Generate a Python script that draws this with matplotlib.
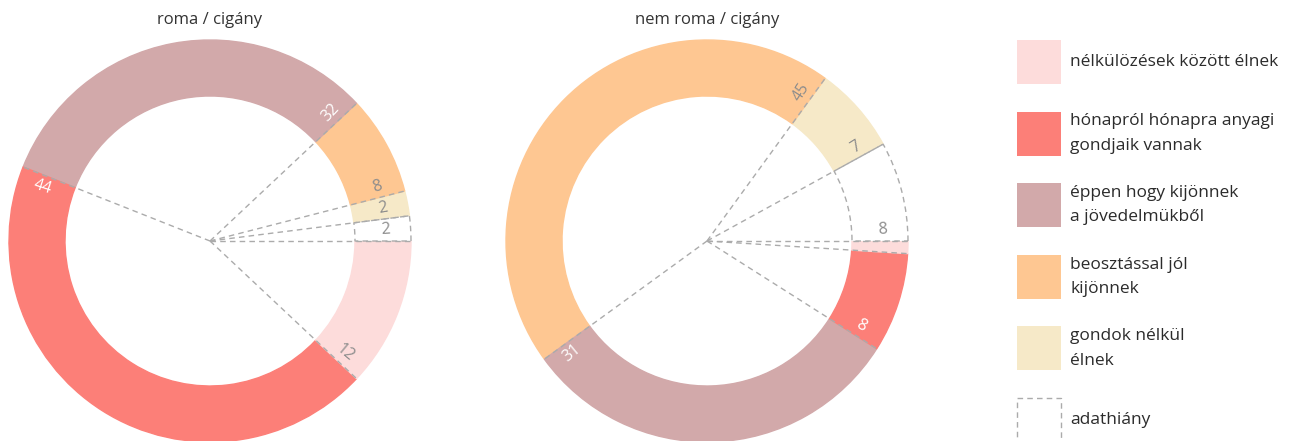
import numpy as np
import matplotlib.pyplot as plt
from matplotlib.patches import Wedge, Rectangle

plt.rcParams['font.family'] = ['Open Sans', 'DejaVu Sans']

# data, legend order (top to bottom)
categories = ['nélkülözések között élnek',
              'hónapról hónapra anyagi\ngondjaik vannak',
              'éppen hogy kijönnek\na jövedelmükből',
              'beosztással jól\nkijönnek',
              'gondok nélkül\nélnek',
              'adathiány']
colors = ['#fddcdb', '#fc7f78', '#d2a9aa', '#fec792', '#f6e9c8', 'white']
roma = [12, 44, 32, 8, 2, 2]
nem_roma = [1, 8, 31, 45, 7, 8]
titles = ['roma / cigány', 'nem roma / cigány']

W, H = 1289, 441
R, RW = 201, 56
dash_col = '#ababab'
dash = (0, (4, 3))

fig = plt.figure(figsize=(W / 100, H / 100), dpi=100)
ax = fig.add_axes([0, 0, 1, 1])
ax.set_xlim(0, W)
ax.set_ylim(0, H)
ax.axis('off')


def donut(cx, cy, values, title):
    vals = values[::-1]
    cols = colors[::-1]
    total = sum(vals)
    start = 0.0
    bounds = []
    for v, c in zip(vals, cols):
        th = 360.0 * v / total
        empty = c == 'white'
        ax.add_patch(Wedge((cx, cy), R, start, start + th, width=RW,
                           facecolor=c, edgecolor=dash_col if empty else c,
                           linestyle=dash if empty else '-', linewidth=1,
                           zorder=2 if empty else 1))
        bounds.append(start)
        if v >= 2:
            a = np.radians(start + 3.6)
            rot = start + 3.6
            if 90 < rot < 270:
                rot -= 180
            dark = c in ('#fc7f78', '#d2a9aa')
            ax.text(cx + 176 * np.cos(a), cy + 176 * np.sin(a), str(v),
                    rotation=rot, rotation_mode='anchor', ha='center', va='center',
                    fontsize=11.5, color='white' if dark else '#8c8c8c', zorder=4)
        start += th
    for b in bounds:
        a = np.radians(b)
        ax.plot([cx, cx + R * np.cos(a)], [cy, cy + R * np.sin(a)],
                color=dash_col, lw=1, linestyle=dash, zorder=3)
    ax.text(cx, H - 20, title, ha='center', va='center', fontsize=12, color='#333333')


donut(210, H - 241, roma, titles[0])
donut(707, H - 241, nem_roma, titles[1])

# legend
for i, (lab, c) in enumerate(zip(categories, colors)):
    yc = H - (62 + 71.6 * i)
    empty = c == 'white'
    ax.add_patch(Rectangle((1017, yc - 22), 44, 44, facecolor=c,
                           edgecolor=dash_col if empty else 'none',
                           linestyle=dash, linewidth=1))
    ax.text(1070, yc, lab, ha='left', va='center', fontsize=12.5,
            color='#2b2b2b', linespacing=1.7)

fig.savefig('out.png', dpi=100)
